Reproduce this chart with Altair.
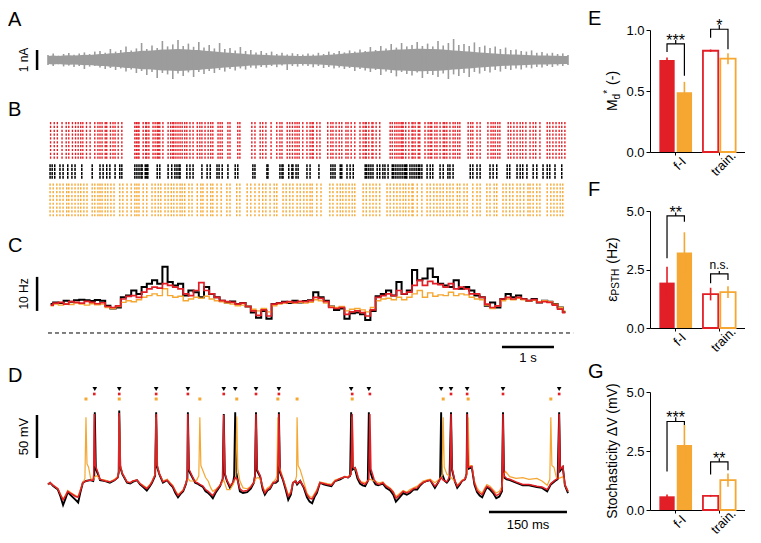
import altair as alt
import numpy as np
import pandas as pd

FONT = "Liberation Sans"
RED = "#e21f26"
ORANGE = "#f5a731"
GRAY = "#9c9c9c"

# ---------------- Panel A: envelope of the injected current (nA), every 0.1 s ----------------
A_DT = 0.1
A_UPPER = [0.25, 0.32, 0.22, 0.3, 0.35, 0.26, 0.33, 0.38, 0.3, 0.42,
           0.45, 0.36, 0.55, 0.42, 0.5, 0.68, 0.48, 0.58, 0.85, 0.55,
           0.72, 0.6, 0.95, 0.68, 0.78, 1.0, 0.7, 0.82, 0.66, 0.9,
           0.62, 0.75, 0.58, 0.85, 0.55, 0.6, 0.48, 0.65, 0.45, 0.5,
           0.38, 0.45, 0.35, 0.42, 0.3, 0.36, 0.28, 0.34, 0.3, 0.27,
           0.33, 0.28, 0.36, 0.3, 0.42, 0.35, 0.45, 0.38, 0.48, 0.42,
           0.52, 0.45, 0.65, 0.5, 0.7, 0.58, 0.8, 0.62, 0.85, 0.68,
           0.75, 0.9, 0.7, 0.82, 0.68, 0.95, 0.72, 0.85, 1.05, 0.75,
           0.8, 0.7, 0.88, 0.65, 0.72, 0.6, 0.68, 0.55, 0.62, 0.5,
           0.52, 0.45, 0.42, 0.48, 0.36, 0.4, 0.32, 0.36, 0.3, 0.33,
           0.25]
A_LOWER = [-0.25, -0.3, -0.22, -0.32, -0.28, -0.35, -0.3, -0.45, -0.33, -0.3,
           -0.38, -0.45, -0.4, -0.5, -0.42, -0.58, -0.48, -0.65, -0.55, -0.75,
           -0.6, -0.9, -0.65, -0.72, -0.95, -0.68, -0.8, -0.62, -0.85, -0.6,
           -0.7, -0.55, -0.65, -0.5, -0.58, -0.45, -0.52, -0.42, -0.48, -0.38,
           -0.42, -0.35, -0.38, -0.3, -0.36, -0.28, -0.5, -0.3, -0.33, -0.28,
           -0.3, -0.36, -0.3, -0.4, -0.35, -0.42, -0.38, -0.45, -0.4, -0.55,
           -0.45, -0.52, -0.6, -0.5, -0.75, -0.58, -0.65, -0.82, -0.6, -0.7,
           -0.78, -0.62, -0.9, -0.7, -0.75, -0.85, -0.68, -0.95, -0.72, -0.8,
           -0.65, -0.85, -0.6, -0.68, -0.55, -0.62, -0.5, -0.58, -0.45, -0.5,
           -0.42, -0.48, -0.38, -0.42, -0.35, -0.38, -0.3, -0.35, -0.28, -0.3,
           -0.25]
# dense core of the noise band (nA), read at the same times
A_CORE = [0.2, 0.22, 0.2, 0.22, 0.24, 0.22, 0.24, 0.26, 0.25, 0.28,
          0.3, 0.3, 0.34, 0.34, 0.36, 0.4, 0.4, 0.42, 0.46, 0.46,
          0.48, 0.5, 0.52, 0.52, 0.54, 0.55, 0.54, 0.52, 0.5, 0.5,
          0.46, 0.45, 0.42, 0.4, 0.38, 0.36, 0.34, 0.32, 0.3, 0.28,
          0.27, 0.26, 0.25, 0.24, 0.22, 0.22, 0.21, 0.21, 0.2, 0.2,
          0.21, 0.21, 0.22, 0.24, 0.26, 0.28, 0.3, 0.32, 0.34, 0.36,
          0.38, 0.4, 0.42, 0.44, 0.46, 0.48, 0.5, 0.52, 0.53, 0.54,
          0.55, 0.56, 0.56, 0.55, 0.55, 0.54, 0.52, 0.5, 0.48, 0.46,
          0.44, 0.42, 0.4, 0.38, 0.36, 0.34, 0.32, 0.3, 0.29, 0.28,
          0.27, 0.26, 0.25, 0.24, 0.23, 0.22, 0.22, 0.21, 0.21, 0.2,
          0.2]

# ---------------- Panel B: spike rasters (spike columns, s) ----------------
RASTER_RED = [0.05, 0.12, 0.18, 0.27, 0.35, 0.40, 0.47, 0.53, 0.58, 0.63, 0.67, 0.74, 0.81, 0.90,
              0.96, 1.0, 1.04, 1.10, 1.13, 1.2, 1.25, 1.29, 1.35, 1.42, 1.67, 1.70, 1.73, 1.75,
              1.83, 1.88, 1.90, 1.94, 2.02, 2.06, 2.10, 2.12, 2.15, 2.21, 2.31, 2.36, 2.40, 2.42,
              2.46, 2.50, 2.54, 2.58, 2.63, 2.67, 2.73, 2.79, 2.87, 2.92, 2.96, 3.02, 3.08, 3.13,
              3.17, 3.27, 3.31, 3.35, 3.46, 3.5, 3.65, 3.69, 3.92, 3.98, 4.08, 4.13, 4.19, 4.29,
              4.40, 4.46, 4.5, 4.6, 4.65, 4.7, 4.75, 4.79, 4.83, 4.9, 4.98, 5.04, 5.08, 5.10,
              5.17, 5.23, 5.38, 5.44, 5.48, 5.54, 5.6, 5.65, 5.73, 5.77, 5.83, 5.9, 6.0, 6.06,
              6.1, 6.12, 6.17, 6.23, 6.25, 6.31, 6.38, 6.58, 6.62, 6.67, 6.71, 6.75, 6.79, 6.81,
              6.83, 6.88, 6.94, 7.0, 7.02, 7.06, 7.12, 7.15, 7.25, 7.31, 7.35, 7.38, 7.44, 7.48,
              7.54, 7.6, 7.63, 7.67, 7.73, 7.79, 7.83, 7.88, 7.92, 8.08, 8.13, 8.17, 8.25, 8.31,
              8.46, 8.52, 8.56, 8.6, 8.65, 8.69, 8.85, 8.9, 8.96, 9.02, 9.08, 9.13, 9.19, 9.27,
              9.33, 9.38, 9.46, 9.6, 9.65, 9.71, 9.77, 9.83, 9.88, 9.94]
RASTER_BLACK = [0.04, 0.08, 0.13, 0.23, 0.29, 0.38, 0.46, 0.52, 0.65, 0.85, 1.0, 1.06, 1.13, 1.19,
                1.29, 1.38, 1.42, 1.67, 1.71, 1.75, 1.79, 1.81, 1.87, 1.9, 1.92, 2.1, 2.15, 2.31,
                2.38, 2.44, 2.48, 2.52, 2.54, 2.67, 2.73, 2.79, 2.96, 3.06, 3.12, 3.25, 3.29, 3.35,
                3.46, 3.6, 3.65, 3.94, 3.98, 4.21, 4.23, 4.46, 4.5, 4.52, 4.63, 4.69, 4.71, 4.77,
                4.81, 4.98, 5.04, 5.21, 5.44, 5.48, 5.52, 5.62, 5.65, 5.75, 5.81, 5.87, 6.1, 6.13,
                6.17, 6.21, 6.25, 6.33, 6.38, 6.44, 6.48, 6.54, 6.62, 6.65, 6.69, 6.73, 6.77, 6.81,
                6.85, 6.88, 6.9, 6.96, 7.0, 7.04, 7.08, 7.12, 7.15, 7.19, 7.29, 7.35, 7.4, 7.54,
                7.6, 7.69, 7.73, 7.79, 8.12, 8.17, 8.25, 8.31, 8.5, 8.56, 8.63, 8.83, 8.88, 9.02,
                9.08, 9.13, 9.21, 9.33, 9.4, 9.52, 9.6, 9.65, 9.75, 9.88]
RASTER_ORANGE = [0.04, 0.1, 0.17, 0.23, 0.29, 0.36, 0.4, 0.46, 0.52, 0.58, 0.63, 0.69, 0.75, 0.85,
                 0.9, 0.96, 1.0, 1.04, 1.1, 1.15, 1.21, 1.27, 1.38, 1.44, 1.52, 1.6, 1.67, 1.71,
                 1.75, 1.83, 1.9, 2.0, 2.06, 2.12, 2.17, 2.25, 2.31, 2.37, 2.42, 2.48, 2.54, 2.58,
                 2.63, 2.71, 2.77, 2.87, 2.94, 2.98, 3.06, 3.13, 3.17, 3.25, 3.33, 3.44, 3.5, 3.63,
                 3.69, 3.83, 3.9, 3.98, 4.06, 4.13, 4.19, 4.27, 4.35, 4.4, 4.52, 4.58, 4.65, 4.71,
                 4.79, 4.85, 4.92, 4.98, 5.04, 5.08, 5.17, 5.25, 5.42, 5.48, 5.56, 5.62, 5.67, 5.73,
                 5.79, 5.85, 5.9, 6.06, 6.12, 6.19, 6.25, 6.31, 6.38, 6.52, 6.58, 6.65, 6.71, 6.77,
                 6.83, 6.88, 6.94, 7.0, 7.02, 7.1, 7.19, 7.29, 7.35, 7.42, 7.48, 7.54, 7.6, 7.67,
                 7.73, 7.79, 7.87, 7.92, 8.0, 8.06, 8.17, 8.25, 8.31, 8.44, 8.5, 8.58, 8.63, 8.75,
                 8.81, 8.88, 8.94, 9.02, 9.08, 9.15, 9.23, 9.27, 9.33, 9.4, 9.46, 9.6, 9.67, 9.73,
                 9.79, 9.85, 9.9]
TRIALS = {"red": 10, "black": 4, "orange": 9}

# ---------------- Panel C: PSTH (Hz), 0.1 s bins ----------------
PSTH_BIN = 0.1
PSTH_BLACK = [8.5, 9, 8.8, 9.5, 9.2, 9.6, 9.8, 9.6, 9.4, 9.7,
              9.5, 8, 7.2, 7.5, 10.5, 11, 12.5, 11.5, 13.5, 14.5,
              15.5, 14.5, 19.5, 15, 14, 14.5, 11, 12.5, 12, 10.5,
              13.5, 11.5, 10.5, 9.5, 9, 9.3, 8.5, 8.8, 7.8, 6,
              4.5, 6.5, 4.2, 8.5, 8.8, 9.2, 8.8, 9.5, 9, 9.4,
              9.6, 12, 10.5, 9.5, 7.8, 6.8, 7.2, 4.2, 5.8, 6,
              5.5, 3.8, 6.5, 10.8, 11.5, 12.5, 11, 15, 11.5, 12.5,
              18.5, 15.5, 16, 19, 16.5, 14.5, 14, 13.5, 15.5, 13,
              13.5, 12.5, 11, 10.5, 8, 9, 7.5, 10, 11.5, 10.5,
              11, 10, 9.5, 10, 9, 9.5, 9.2, 8.5, 7.5, 6.2]
PSTH_RED = [8.2, 8.8, 9, 8.5, 9.2, 9, 8.8, 9.3, 9, 8.6,
            8.9, 7.8, 7.5, 8, 10, 10.8, 11, 10.5, 12, 13,
            13.5, 13.2, 14.5, 14, 13.5, 13, 11.5, 11, 12.5, 14.8,
            12.5, 11.5, 10.5, 9.5, 9.2, 9, 8.5, 8.8, 7.8, 6.5,
            5.2, 6.8, 5, 8.5, 8.8, 9, 9.2, 9, 9.3, 9.2,
            9.5, 10.5, 10.2, 9.2, 7.5, 7.2, 7.5, 5.5, 6.2, 6.5,
            6, 5, 6.8, 10.5, 11, 11.5, 11, 12.5, 11.5, 12,
            14, 15.5, 14, 15.2, 14.5, 14.2, 13.5, 14.5, 13, 13.5,
            13, 11.5, 11.5, 10.5, 8.5, 7.5, 8, 10, 10.5, 10,
            10.5, 10, 9.5, 9.8, 9, 9.2, 9, 8.2, 7, 6]
PSTH_ORANGE = [8, 8.5, 8.2, 8.6, 8.4, 8.8, 8.5, 8.2, 8.6, 8.3,
               8.5, 7.5, 7.2, 7.8, 9, 9.5, 9.2, 9.8, 10.5, 11,
               11.5, 11, 13, 11, 10.5, 10.8, 9.5, 10, 10.5, 10.2,
               10.8, 10, 9.5, 9.2, 8.8, 8.5, 8, 8.2, 7.8, 7,
               6.5, 7.2, 6.2, 8, 8.5, 8.8, 9, 8.8, 9, 8.8,
               9, 9.8, 9.5, 8.8, 7.8, 7.5, 7.8, 6.5, 7, 7.2,
               6.8, 6.2, 7.5, 9.5, 10, 10.2, 9.8, 10.5, 9.8, 10.5,
               11.5, 12.5, 10.5, 11.8, 10.8, 11.2, 11, 12, 11, 11.5,
               11.2, 10.5, 10, 9.8, 8.2, 7.2, 8, 9.5, 10, 9.8,
               10.2, 9.8, 9.5, 9.6, 9.2, 9.5, 9.2, 8.5, 7.5, 6.5]

# ---------------- Panel D: membrane potential (ms, mV) ----------------
V_BLACK = [(0, -62), (4, -60), (10, -64), (19, -68), (24, -76), (29, -86), (34, -78), (38, -71), (43, -74),
           (48, -77), (53, -80), (58, -83), (62, -72), (67, -60), (73, -58), (81, -57), (87, -58), (89, -52),
           (90, 22), (92, -44), (96, -50), (100, -57), (110, -58), (119, -60), (128, -57), (134, -54),
           (136, -48), (137, 24), (139, -42), (143, -50), (152, -60), (158, -61), (163, -59), (171, -57),
           (177, -62), (183, -65), (190, -69), (196, -64), (200, -60), (206, -52), (208, 22), (210, -42),
           (214, -50), (221, -60), (229, -57), (235, -62), (240, -65), (245, -72), (250, -77), (255, -73),
           (260, -70), (265, -62), (268, -55), (269, 22), (271, -46), (277, -53), (283, -60), (287, -61),
           (292, -63), (298, -65), (303, -70), (308, -72), (313, -75), (317, -78), (322, -72), (331, -64),
           (336, -56), (338, 20), (340, -50), (344, -58), (350, -66), (356, -60), (358, -52), (360, 22),
           (362, -48), (369, -70), (375, -72), (383, -71), (390, -67), (396, -60), (398, -52), (400, 22),
           (402, -46), (408, -53), (413, -68), (417, -74), (422, -69), (427, -67), (433, -60), (438, -60),
           (442, -58), (444, 22), (446, -48), (452, -57), (457, -68), (462, -80), (467, -74), (471, -60),
           (476, -58), (479, -62), (485, -58), (492, -66), (498, -77), (503, -82), (508, -84), (513, -76),
           (517, -72), (523, -60), (530, -62), (537, -63), (545, -64), (552, -58), (562, -56), (571, -53),
           (577, -54), (581, -52), (583, 22), (585, -45), (590, -43), (595, -55), (600, -61), (605, -63),
           (610, -64), (615, -58), (617, 22), (619, -46), (625, -57), (630, -62), (635, -63), (644, -61),
           (650, -66), (658, -69), (664, -74), (669, -82), (675, -78), (683, -72), (690, -74), (696, -72),
           (703, -68), (710, -68), (716, -63), (721, -60), (728, -58), (735, -57), (744, -66), (750, -60),
           (754, -55), (756, 22), (758, -50), (763, -58), (767, -60), (772, -56), (775, 22), (777, -45),
           (782, -58), (787, -66), (792, -62), (796, -58), (802, -56), (805, -50), (806, 22), (808, -44),
           (815, -42), (820, -62), (825, -71), (830, -75), (835, -77), (840, -70), (844, -65), (850, -68),
           (856, -72), (862, -78), (868, -76), (873, -70), (875, 22), (877, -54), (882, -56), (888, -57),
           (900, -60), (913, -63), (925, -63), (940, -65), (950, -66), (960, -70), (967, -62), (975, -58),
           (980, -56), (983, 22), (985, -46), (990, -42), (994, -63), (1000, -72)]
V_RED = [(0, -62), (4, -60), (10, -63), (19, -67), (24, -74), (29, -80), (34, -75), (38, -70), (43, -72),
         (48, -74), (53, -76), (58, -77), (62, -70), (67, -60), (73, -58), (81, -57), (87, -57), (88, -50),
         (89, 20), (91, -40), (96, -48), (100, -56), (110, -58), (119, -59), (128, -57), (134, -54),
         (136, -47), (137, 21), (139, -40), (143, -49), (152, -59), (158, -60), (163, -58), (171, -57),
         (177, -61), (183, -64), (190, -67), (196, -63), (200, -59), (206, -51), (208, 20), (210, -40),
         (214, -49), (221, -59), (229, -57), (235, -61), (240, -64), (245, -70), (250, -75), (255, -72),
         (260, -69), (265, -61), (268, -54), (269, 20), (271, -44), (277, -52), (283, -59), (287, -60),
         (292, -62), (298, -64), (303, -68), (308, -70), (313, -73), (317, -75), (322, -70), (331, -63),
         (336, -55), (338, 19), (340, -48), (344, -57), (350, -64), (356, -59), (360, -54), (364, -56),
         (369, -67), (375, -70), (383, -69), (390, -65), (396, -59), (398, -51), (400, 20), (402, -44),
         (408, -52), (413, -66), (417, -72), (422, -68), (427, -66), (433, -60), (438, -59), (442, -56),
         (444, 20), (446, -46), (452, -56), (457, -66), (462, -76), (467, -72), (471, -60), (476, -58),
         (479, -61), (485, -58), (492, -65), (498, -74), (503, -78), (508, -79), (513, -74), (517, -70),
         (523, -60), (530, -61), (537, -62), (545, -63), (552, -58), (562, -55), (571, -53), (577, -54),
         (583, -50), (585, 20), (587, -42), (592, -44), (597, -55), (602, -60), (610, -62), (617, -56),
         (619, 20), (621, -44), (627, -56), (632, -61), (637, -62), (644, -60), (650, -64), (658, -67),
         (664, -71), (669, -78), (675, -75), (683, -70), (690, -72), (696, -70), (703, -67), (710, -66),
         (716, -62), (721, -60), (728, -58), (735, -57), (744, -64), (750, -60), (756, -54), (760, -57),
         (767, -59), (773, -52), (775, 20), (777, -43), (782, -57), (787, -64), (792, -61), (796, -58),
         (802, -56), (805, -49), (806, 20), (808, -42), (815, -41), (820, -60), (825, -69), (830, -72),
         (835, -74), (840, -68), (844, -64), (850, -66), (856, -70), (862, -75), (868, -73), (873, -68),
         (875, 20), (877, -52), (882, -55), (888, -56), (900, -59), (913, -62), (925, -62), (940, -64),
         (950, -65), (960, -68), (967, -61), (975, -57), (981, -55), (983, 20), (985, -44), (990, -41),
         (994, -62), (1000, -70)]
V_ORANGE = [(0, -62), (4, -60), (10, -63), (19, -67), (24, -73), (29, -79), (34, -74), (38, -69), (43, -71),
            (48, -73), (53, -75), (58, -76), (62, -68), (67, -60), (71, -55), (73, 16), (75, -38), (78, -42),
            (82, -55), (87, -57), (90, -53), (94, -52), (100, -56), (110, -57), (119, -59), (128, -56),
            (134, -53), (136, -47), (137, 17), (139, -40), (143, -49), (152, -59), (158, -60), (163, -58),
            (171, -57), (177, -61), (183, -63), (190, -66), (196, -62), (200, -58), (206, -50), (208, 16),
            (210, -40), (214, -49), (221, -58), (229, -56), (235, -60), (240, -63), (245, -69), (250, -74),
            (255, -71), (260, -68), (265, -61), (269, -55), (273, -58), (280, -58), (286, -57), (290, -52),
            (292, 16), (294, -40), (298, -46), (303, -54), (308, -58), (313, -66), (317, -70), (322, -68),
            (331, -63), (338, -57), (344, -68), (350, -68), (356, -62), (361, -54), (363, 17), (365, -44),
            (369, -58), (375, -66), (383, -67), (390, -64), (396, -60), (400, -55), (404, -54), (408, -56),
            (413, -64), (417, -70), (422, -66), (427, -64), (433, -59), (438, -56), (440, -52), (442, 16),
            (444, -40), (448, -47), (452, -55), (457, -64), (462, -74), (467, -70), (471, -60), (476, -57),
            (478, -52), (479, 16), (481, -40), (485, -45), (490, -55), (498, -72), (503, -76), (508, -77),
            (513, -72), (517, -68), (523, -59), (530, -60), (537, -61), (545, -62), (552, -57), (562, -55),
            (571, -53), (577, -53), (583, -50), (585, 17), (587, -42), (592, -45), (597, -55), (602, -59),
            (610, -60), (619, -56), (627, -58), (637, -60), (644, -59), (650, -63), (658, -66), (664, -70),
            (669, -76), (675, -73), (683, -69), (690, -71), (696, -68), (703, -66), (710, -64), (716, -61),
            (721, -58), (728, -57), (735, -56), (744, -60), (754, -55), (758, -52), (760, 16), (762, -42),
            (767, -50), (775, -54), (782, -58), (787, -63), (792, -60), (796, -57), (802, -55), (806, -50),
            (808, 16), (810, -40), (815, -40), (820, -58), (825, -66), (830, -70), (835, -72), (840, -66),
            (844, -62), (850, -64), (856, -68), (862, -72), (868, -70), (873, -64), (876, -50), (880, -47),
            (888, -53), (900, -55), (913, -54), (925, -56), (940, -55), (950, -58), (960, -63), (965, -56),
            (967, 16), (969, -40), (973, -42), (978, -55), (983, -55), (990, -53), (994, -62), (1000, -70)]
SPK_BLACK = [90, 137, 208, 269, 338, 360, 400, 444, 583, 617, 756, 775, 806, 875, 983]
SPK_RED = [89, 137, 208, 269, 338, 400, 444, 585, 619, 775, 806, 875, 983]
SPK_ORANGE = [73, 137, 208, 292, 363, 442, 479, 585, 760, 808, 967]

# ---------------- Panels E-G: bar summaries ----------------
GROUPS = ["f-I", "train."]
CONDS = ["model 1", "model 2"]
E_MEAN = [[0.755, 0.49], [0.83, 0.765]]
E_ERR = [[0.02, 0.085], [0.01, 0.045]]
E_BRK = [("f-I", 0.82, 0.886, 0.624, 0.918, "***"), ("train.", 0.937, 1.006, 0.842, 1.04, "*")]
F_MEAN = [[1.94, 3.23], [1.45, 1.53]]
F_ERR = [[0.68, 0.86], [0.27, 0.25]]
F_BRK = [("f-I", 2.98, 4.79, 4.54, 4.94, "**"), ("train.", 1.91, 2.31, 2.05, 2.44, "n.s.")]
G_MEAN = [[0.58, 2.75], [0.6, 1.27]]
G_ERR = [[0.08, 0.85], [0.04, 0.28]]
G_BRK = [("f-I", 1.63, 3.75, 3.6, 3.93, "***"), ("train.", 1.5, 2.04, 1.68, 2.19, "**")]

# axis titles with sub/superscripts: (text, font size, baseline shift; + = down, gap before)
E_TITLE = [("M", 14, 0, 0), ("d", 10, 3, 0), ("*", 10, -6, 0), ("(-)", 14, 0, 5)]
F_TITLE = [("ε", 14, 0, 0), ("PSTH", 10, 2, 0), ("(Hz)", 14, 0, 5)]
G_TITLE = [("Stochasticity ΔV (mV)", 14, 0, 0)]

# =====================================================================
LW = 578
XT = alt.Scale(domain=[-0.7692, 10.3462], nice=False, zero=False)
XMS = alt.Scale(domain=[-76.92, 1034.6], nice=False, zero=False)

# Arial / Liberation Sans advance widths (em)
ADV = {"M": 0.833, "d": 0.556, "*": 0.389, " ": 0.278, "(": 0.333, ")": 0.333, "-": 0.333,
       "ε": 0.45, "P": 0.667, "S": 0.667, "T": 0.611, "H": 0.722, "z": 0.5, "t": 0.278,
       "o": 0.556, "c": 0.5, "h": 0.556, "a": 0.556, "s": 0.5, "i": 0.222, "y": 0.5,
       "Δ": 0.668, "V": 0.667, "m": 0.833}


def twidth(s, size):
    return sum(ADV.get(ch, 0.556) for ch in s) * size


def one(**kw):
    return pd.DataFrame({k: [v] for k, v in kw.items()})


def letter(s, x=0, y=2):
    return alt.Chart(one(s=s)).mark_text(text=s, font=FONT, fontSize=20, align="left",
                                         baseline="top", color="black").encode(
        x=alt.value(x), y=alt.value(y))


def vtext(df, xs, ys, size=12, angle=270):
    return alt.Chart(df).mark_text(font=FONT, fontSize=size, angle=angle, align="center",
                                   baseline="middle", color="black").encode(
        x=alt.X("x:Q", scale=xs, axis=None), y=alt.Y("y:Q", scale=ys, axis=None), text="s:N")


def vbar(df, xs, ys, w=2.5):
    return alt.Chart(df).mark_rule(strokeWidth=w, color="black").encode(
        x=alt.X("x:Q", scale=xs, axis=None), y=alt.Y("y:Q", scale=ys, axis=None), y2="y2:Q")


def hbar(df, xs, ys, w=2.5, dash=None):
    kw = dict(strokeWidth=w, color="black")
    if dash:
        kw["strokeDash"] = dash
    return alt.Chart(df).mark_rule(**kw).encode(
        x=alt.X("x:Q", scale=xs, axis=None), x2="x2:Q", y=alt.Y("y:Q", scale=ys, axis=None))


# ---- A ----
yA = alt.Scale(domain=[-1.9, 2.6], nice=False, zero=False)
tA = np.round(np.arange(len(A_UPPER)) * A_DT, 2)
dfA = pd.DataFrame({"t": tA, "hi": A_UPPER, "lo": A_LOWER,
                    "chi": A_CORE, "clo": [-c for c in A_CORE]})
A_spikes = alt.Chart(dfA).mark_rule(color=GRAY, strokeWidth=1.6).encode(
    x=alt.X("t:Q", scale=XT, axis=None), y=alt.Y("hi:Q", scale=yA, axis=None), y2="lo:Q")
A_core = alt.Chart(dfA).mark_area(color=GRAY, interpolate="linear").encode(
    x=alt.X("t:Q", scale=XT, axis=None), y=alt.Y("chi:Q", scale=yA, axis=None), y2="clo:Q")
panelA = alt.layer(
    A_core, A_spikes,
    vbar(one(x=-0.21, y=-0.5, y2=0.5), XT, yA),
    vtext(one(x=-0.46, y=0.0, s="1 nA"), XT, yA, 12),
    letter("A"),
).properties(width=LW, height=90)

# ---- B ----
rows = []
start = 0
for name, cols in [("red", RASTER_RED), ("black", RASTER_BLACK), ("orange", RASTER_ORANGE)]:
    n = TRIALS[name]
    for t in cols:
        rows.append({"grp": name, "t": t, "r0": start, "r1": start + n})
    start += n + 1
dfB = pd.DataFrame(rows)
yB = alt.Scale(domain=[-6.25, 28.125], nice=False, zero=False, reverse=True)
rasters = []
for name, col, dash, w in [("red", RED, [2.2, 1.64], 1.4), ("black", "black", [3.0, 0.84], 1.5),
                           ("orange", ORANGE, [2.2, 1.64], 1.4)]:
    rasters.append(alt.Chart(dfB).transform_filter(alt.datum.grp == name).mark_rule(
        color=col, strokeDash=dash, strokeWidth=w).encode(
        x=alt.X("t:Q", scale=XT, axis=None), y=alt.Y("r0:Q", scale=yB, axis=None), y2="r1:Q"))
panelB = alt.layer(*rasters, letter("B")).properties(width=LW, height=132)

# ---- C ----
yC = alt.Scale(domain=[-9.706, 30.294], nice=False, zero=False)
psth = []
for name, vals, col, w in [("black", PSTH_BLACK, "black", 2.0), ("orange", PSTH_ORANGE, ORANGE, 1.4),
                           ("red", PSTH_RED, RED, 1.7)]:
    d = pd.DataFrame({"t": (np.arange(len(vals)) + 0.5) * PSTH_BIN, "r": vals})
    psth.append(alt.Chart(d).mark_line(color=col, strokeWidth=w, interpolate="step").encode(
        x=alt.X("t:Q", scale=XT, axis=None), y=alt.Y("r:Q", scale=yC, axis=None)))
panelC = alt.layer(
    hbar(one(x=0.0, x2=10.1, y=0.0), XT, yC, w=1, dash=[4, 3]),
    *psth,
    vbar(one(x=-0.21, y=6.5, y2=16.5), XT, yC),
    vtext(one(x=-0.46, y=11.5, s="10 Hz"), XT, yC, 12),
    hbar(one(x=8.73, x2=9.73, y=-4.1), XT, yC),
    vtext(one(x=9.23, y=-7.3, s="1 s"), XT, yC, 13, angle=0),
    letter("C", y=6),
).properties(width=LW, height=136)

# ---- D ----
yD = alt.Scale(domain=[-120.8, 75.7], nice=False, zero=False)
traces = []
for vals, col, w in [(V_BLACK, "black", 1.9), (V_ORANGE, ORANGE, 1.2), (V_RED, RED, 1.5)]:
    d = pd.DataFrame(vals, columns=["t", "v"])
    traces.append(alt.Chart(d).mark_line(color=col, strokeWidth=w).encode(
        x=alt.X("t:Q", scale=XMS, axis=None), y=alt.Y("v:Q", scale=yD, axis=None)))
marks = []
for spk, col, shape, size, ypix in [(SPK_BLACK, "black", "triangle-down", 22, 23),
                                    (SPK_RED, RED, "square", 7, 28),
                                    (SPK_ORANGE, ORANGE, "square", 9, 33)]:
    marks.append(alt.Chart(pd.DataFrame({"t": spk})).mark_point(
        shape=shape, filled=True, size=size, color=col, opacity=1).encode(
        x=alt.X("t:Q", scale=XMS, axis=None), y=alt.value(ypix)))
panelD = alt.layer(
    *traces, *marks,
    vbar(one(x=-21.2, y=-31.3, y2=18.7), XMS, yD),
    vtext(one(x=-46.2, y=-6.3, s="50 mV"), XMS, yD, 13),
    hbar(one(x=848, x2=998, y=-94.1), XMS, yD),
    vtext(one(x=923, y=-109.2, s="150 ms"), XMS, yD, 13, angle=0),
    letter("D", y=0),
).properties(width=LW, height=169)

left = alt.vconcat(panelA, panelB, panelC, panelD, spacing=0, bounds="flush")


# ---- E / F / G ----
def rotated_title(parts, h, bx=-33):
    total = sum(twidth(s, fs) + gap for s, fs, _, gap in parts)
    y = h / 2 + total / 2
    layers = []
    for s, fs, shift, gap in parts:
        y -= gap
        layers.append(alt.Chart(one(s=s)).mark_text(
            text=s, font=FONT, fontSize=fs, angle=270, align="left", baseline="alphabetic",
            color="black").encode(x=alt.value(bx + shift), y=alt.value(y)))
        y -= twidth(s, fs)
    return layers


def bar_panel(means, errs, brk, ymax, ticks, title_parts, let, h, let_y):
    df = pd.DataFrame([{"group": g, "cond": c, "mean": means[i][j],
                        "lo": means[i][j] - errs[i][j], "hi": means[i][j] + errs[i][j]}
                       for i, g in enumerate(GROUPS) for j, c in enumerate(CONDS)])
    xs = alt.Scale(domain=GROUPS, paddingInner=0.25, paddingOuter=0.215)
    xax = alt.Axis(title=None, labelAngle=-45, labelFontSize=13, labelFont=FONT, labelColor="black",
                   labelAlign="center", labelBaseline="top",
                   tickColor="black", tickSize=3, domainColor="black", labelPadding=4)
    X = alt.X("group:N", scale=xs, axis=xax, sort=GROUPS)
    XO = alt.XOffset("cond:N", scale=alt.Scale(domain=CONDS, paddingInner=0.12, paddingOuter=0))
    ys = alt.Scale(domain=[0, ymax], nice=False, zero=True)
    yax = alt.Axis(values=ticks, format=".1f", title=None, labelFont=FONT, labelFontSize=13,
                   labelColor="black", tickColor="black", tickSize=4, domainColor="black",
                   grid=False, labelPadding=2)
    cs = alt.Scale(domain=CONDS, range=[RED, ORANGE])
    base = alt.Chart(df)
    filled = base.transform_filter(alt.datum.group == "f-I").mark_bar(strokeWidth=0).encode(
        x=X, xOffset=XO, y=alt.Y("mean:Q", scale=ys, axis=yax),
        color=alt.Color("cond:N", scale=cs, legend=None))
    hollow = base.transform_filter(alt.datum.group == "train.").mark_bar(
        fill="white", strokeWidth=1.8).encode(
        x=X, xOffset=XO, y=alt.Y("mean:Q", scale=ys, axis=yax),
        stroke=alt.Stroke("cond:N", scale=cs, legend=None))
    err = base.mark_rule(strokeWidth=1.6).encode(
        x=X, xOffset=XO, y=alt.Y("lo:Q", scale=ys, axis=yax), y2="hi:Q",
        color=alt.Color("cond:N", scale=cs, legend=None))
    lrows, nrows = [], []
    for g, yl, yt, yr, yn, s in brk:
        for k, (c, v) in enumerate([(CONDS[0], yl), (CONDS[0], yt), (CONDS[1], yt), (CONDS[1], yr)]):
            lrows.append({"group": g, "cond": c, "v": v, "k": k})
        nrows.append({"group": g, "top": yt, "nub": yn, "s": s})
    ldf, ndf = pd.DataFrame(lrows), pd.DataFrame(nrows)
    br = alt.Chart(ldf).mark_line(color="black", strokeWidth=1.2).encode(
        x=X, xOffset=XO, y=alt.Y("v:Q", scale=ys, axis=yax), detail="group:N", order="k:Q")
    nub = alt.Chart(ndf).mark_rule(color="black", strokeWidth=1.2).encode(
        x=X, y=alt.Y("top:Q", scale=ys, axis=yax), y2="nub:Q")
    star = alt.Chart(ndf).transform_filter(alt.datum.s != "n.s.").mark_text(
        font=FONT, fontSize=16, baseline="alphabetic", dy=6, color="black").encode(
        x=X, y=alt.Y("nub:Q", scale=ys, axis=yax), text="s:N")
    ns = alt.Chart(ndf).transform_filter(alt.datum.s == "n.s.").mark_text(
        font=FONT, fontSize=12, baseline="alphabetic", dy=-2, color="black").encode(
        x=X, y=alt.Y("nub:Q", scale=ys, axis=yax), text="s:N")
    return alt.layer(filled, hollow, err, br, nub, star, ns, *rotated_title(title_parts, h),
                     letter(let, x=-62, y=let_y)).properties(width=95, height=h)


def spacer(h):
    return alt.Chart(one(a=0)).mark_text(text="", align="left", baseline="top").encode(
        x=alt.value(0), y=alt.value(0)).properties(width=95, height=h)


panelE = bar_panel(E_MEAN, E_ERR, E_BRK, 1.0, [0, 0.5, 1.0], E_TITLE, "E", 122, -21)
panelF = bar_panel(F_MEAN, F_ERR, F_BRK, 5.0, [0, 2.5, 5.0], F_TITLE, "F", 117, -31)
panelG = bar_panel(G_MEAN, G_ERR, G_BRK, 5.0, [0, 2.5, 5.0], G_TITLE, "G", 118, -30)

right = alt.vconcat(spacer(22), panelE, spacer(59), panelF, spacer(64), panelG,
                    spacing=0, bounds="flush")

chart = alt.hconcat(left, right, spacing=2).properties(padding=0).configure_view(stroke=None)
chart.save("out.html", embed_options={"renderer": "svg", "actions": False})
